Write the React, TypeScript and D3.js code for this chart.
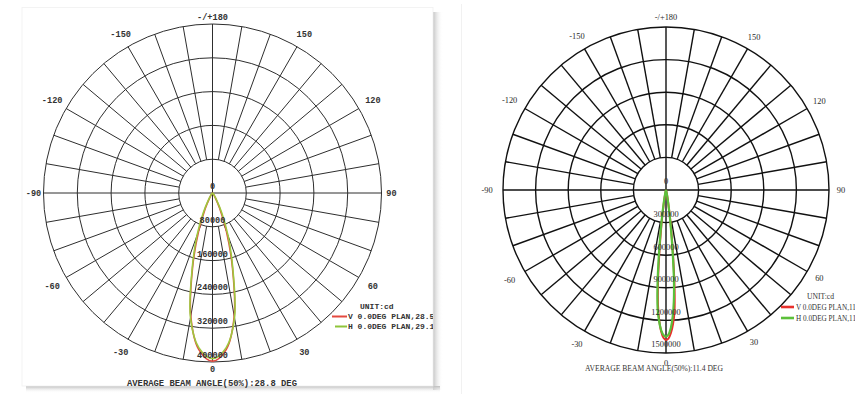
import React from 'react';
import * as d3 from 'd3';

const W = 855;
const H = 394;

// angle tick labels (0 = straight down, positive to the right)
const angleTicks = [180, -150, 150, -120, 120, -90, 90, -60, 60, -30, 30, 0];
const angleTickLabels = ['-/+180', '-150', '150', '-120', '120', '-90', '90', '-60', '60', '-30', '30', '0'];

// ring values (cd)
const leftRingValues = [0, 80000, 160000, 240000, 320000, 400000];
const rightRingValues = [0, 300000, 600000, 900000, 1200000, 1500000];

// left chart: measured angles (deg) and intensities (cd)
const leftAngles = [-90, -60, -45, -40, -35, -30, -25, -20, -15, -10, -5, 0, 5, 10, 15, 20, 25, 30, 35, 40, 45, 60, 90];
const leftV = [0, 200, 800, 2000, 5000, 14000, 40000, 96000, 182000, 296000, 372000, 398000, 372000, 296000, 182000, 96000, 40000, 14000, 5000, 2000, 800, 200, 0];
const leftH = [0, 300, 1000, 2500, 7000, 20000, 52000, 108000, 186000, 300000, 368000, 392000, 368000, 300000, 186000, 108000, 52000, 20000, 7000, 2500, 1000, 300, 0];

// right chart
const rightAngles = [-90, -30, -20, -15, -12, -10, -8, -7, -6, -5, -4, -3, -2, -1, 0, 1, 2, 3, 4, 5, 6, 7, 8, 10, 12, 15, 20, 30, 90];
const rightV = [0, 1000, 4000, 15000, 35000, 90000, 250000, 390000, 590000, 840000, 1060000, 1200000, 1300000, 1360000, 1380000, 1365000, 1315000, 1235000, 1120000, 900000, 640000, 440000, 290000, 110000, 42000, 18000, 5000, 1200, 0];
const rightH = [0, 1100, 4500, 15000, 48000, 120000, 300000, 450000, 660000, 900000, 1100000, 1210000, 1290000, 1335000, 1350000, 1330000, 1270000, 1170000, 1030000, 840000, 600000, 400000, 260000, 100000, 40000, 13000, 4000, 1000, 0];

const leftLegend = ['V 0.0DEG PLAN,28.5', 'H 0.0DEG PLAN,29.1'];
const rightLegend = ['V 0.0DEG PLAN,11.2', 'H 0.0DEG PLAN,11.6'];
const leftTitle = 'AVERAGE BEAM ANGLE(50%):28.8 DEG';
const rightTitle = 'AVERAGE BEAM ANGLE(50%):11.4 DEG';

type Series = { angles: number[]; values: number[]; color: string; width: number };

type ChartProps = {
  cx: number;
  cy: number;
  R: number;
  rings: number[];
  series: Series[];
  gridColor: string;
  gridWidth: number;
  font: string;
  fontSize: number;
  fontWeight: string | number;
  textColor: string;
  ringLabelLift: number;
  labelBase: number;
  labelK2: number;
  labelKs: number;
  labelNeg: number;
};

function PolarChart(p: ChartProps) {
  const maxVal = p.rings[p.rings.length - 1];
  const r = d3.scaleLinear().domain([0, maxVal]).range([0, p.R]);
  const ang = d3.scaleLinear().domain([-180, 180]).range([2 * Math.PI, 0]);
  const spokes = d3.range(0, 360, 10);
  const ringR = p.rings.slice(1).map((v) => r(v));

  const line = (s: Series) =>
    d3
      .lineRadial<number>()
      .angle((_d, i) => ang(s.angles[i]))
      .radius((d) => r(d))
      .curve(d3.curveCatmullRom.alpha(0.5))(s.values) || '';

  const textProps = {
    fontFamily: p.font,
    fontSize: p.fontSize,
    fontWeight: p.fontWeight,
    fill: p.textColor,
    textAnchor: 'middle' as const,
  };

  return (
    <g transform={`translate(${p.cx},${p.cy})`}>
      {ringR.map((rr, i) => (
        <circle key={'c' + i} r={rr} fill="none" stroke={p.gridColor} strokeWidth={p.gridWidth} />
      ))}
      {spokes.map((t) => {
        const a = ang(t > 180 ? t - 360 : t);
        const r0 = t % 90 === 0 ? 0 : ringR[0];
        const [x0, y0] = d3.pointRadial(a, r0);
        const [x1, y1] = d3.pointRadial(a, p.R);
        return <line key={'s' + t} x1={x0} y1={y0} x2={x1} y2={y1} stroke={p.gridColor} strokeWidth={p.gridWidth} />;
      })}
      {p.series.map((s, i) => (
        <path key={'p' + i} d={line(s)} fill="none" stroke={s.color} strokeWidth={s.width} strokeLinejoin="round" />
      ))}
      {p.rings.map((v, i) => (
        <text key={'rl' + i} x={0} y={r(v) - p.ringLabelLift} dy="0.35em" {...textProps}>
          {String(v)}
        </text>
      ))}
      {angleTicks.map((t, i) => {
        const th = (t * Math.PI) / 180;
        const off =
          p.labelBase +
          p.labelK2 * Math.abs(Math.sin(2 * th)) +
          p.labelKs * Math.sin(th) * Math.sin(th) +
          (t < 0 && t !== -180 ? p.labelNeg * Math.abs(Math.sin(th)) : 0);
        const [x, y] = d3.pointRadial(ang(t), p.R + off);
        return (
          <text key={'al' + i} x={x} y={y} dy="0.35em" {...textProps}>
            {angleTickLabels[i]}
          </text>
        );
      })}
    </g>
  );
}

export default function App() {
  const mono = "'Liberation Mono', 'DejaVu Sans Mono', monospace";
  const serif = "'Liberation Serif', 'DejaVu Serif', serif";
  return (
    <svg
      width={W}
      height={H}
      viewBox={`0 0 ${W} ${H}`}
      style={{ position: 'absolute', left: 0, top: 0, background: '#ffffff' }}
    >
      <defs>
        <linearGradient id="shR" x1="0" x2="1" y1="0" y2="0">
          <stop offset="0" stopColor="#c4c4c4" stopOpacity="1" />
          <stop offset="1" stopColor="#ffffff" stopOpacity="0" />
        </linearGradient>
        <linearGradient id="shB" x1="0" x2="0" y1="0" y2="1">
          <stop offset="0" stopColor="#bdbdbd" stopOpacity="1" />
          <stop offset="1" stopColor="#ffffff" stopOpacity="0" />
        </linearGradient>
        <clipPath id="leftClip">
          <rect x={0} y={0} width={433} height={H} />
        </clipPath>
      </defs>

      {/* panels */}
      <rect x={433} y={12} width={10} height={378} fill="url(#shR)" />
      <rect x={26} y={386} width={414} height={7} fill="url(#shB)" />
      <rect x={22} y={7.5} width={411} height={378.5} fill="#ffffff" stroke="#f1f1f1" strokeWidth={0.8} />
      <line x1={461.5} y1={4} x2={461.5} y2={H} stroke="#f1f1f1" strokeWidth={1} />

      {/* left chart */}
      <g clipPath="url(#leftClip)">
        <PolarChart
          cx={212.5}
          cy={193}
          R={169}
          rings={leftRingValues}
          series={[
            { angles: leftAngles, values: leftV, color: '#e4493f', width: 1.6 },
            { angles: leftAngles, values: leftH, color: '#9ec83e', width: 1.6 },
          ]}
          gridColor="#2e2e2e"
          gridWidth={1}
          font={mono}
          fontSize={8.6}
          fontWeight="bold"
          textColor="#333333"
          ringLabelLift={7}
          labelBase={7}
          labelK2={8}
          labelKs={3}
          labelNeg={0}
        />
        <text x={360} y={306} dy="0.35em" fontFamily={mono} fontSize={8} fontWeight="bold" fill="#333">
          UNIT:cd
        </text>
        <line x1={332} y1={316.5} x2={347} y2={316.5} stroke="#e4493f" strokeWidth={2} />
        <line x1={335} y1={326.5} x2={347} y2={326.5} stroke="#8fc43a" strokeWidth={2} />
        {leftLegend.map((t, i) => (
          <text key={t} x={348} y={316 + i * 10.5} dy="0.35em" fontFamily={mono} fontSize={8} fontWeight="bold" fill="#333">
            {t}
          </text>
        ))}
        <text
          x={212}
          y={383}
          dy="0.35em"
          textAnchor="middle"
          fontFamily={mono}
          fontSize={8.6}
          fontWeight="bold"
          fill="#333"
          textLength={170}
          lengthAdjust="spacingAndGlyphs"
        >
          {leftTitle}
        </text>
      </g>

      {/* right chart */}
      <PolarChart
        cx={666}
        cy={190}
        R={163}
        rings={rightRingValues}
        series={[
          { angles: rightAngles, values: rightV, color: '#e8302c', width: 2 },
          { angles: rightAngles, values: rightH, color: '#5cc03a', width: 2.2 },
        ]}
        gridColor="#111111"
        gridWidth={1.4}
        font={serif}
        fontSize={8.4}
        fontWeight="normal"
        textColor="#2a2a2a"
        ringLabelLift={8.5}
        labelBase={10}
        labelK2={3}
        labelKs={2}
        labelNeg={4}
      />
      <text x={807} y={296} dy="0.35em" fontFamily={serif} fontSize={7.6} fill="#333">
        UNIT:cd
      </text>
      <line x1={781} y1={307} x2={794} y2={307} stroke="#e8302c" strokeWidth={2.6} />
      <line x1={781} y1={318} x2={794} y2={318} stroke="#5cc03a" strokeWidth={2.6} />
      {rightLegend.map((t, i) => (
        <text key={t} x={796} y={307 + i * 11} dy="0.35em" fontFamily={serif} fontSize={7.2} fill="#333">
          {t}
        </text>
      ))}
      <text
        x={585}
        y={368}
        dy="0.35em"
        fontFamily={serif}
        fontSize={8}
        fill="#333"
        textLength={138}
        lengthAdjust="spacingAndGlyphs"
      >
        {rightTitle}
      </text>
    </svg>
  );
}
